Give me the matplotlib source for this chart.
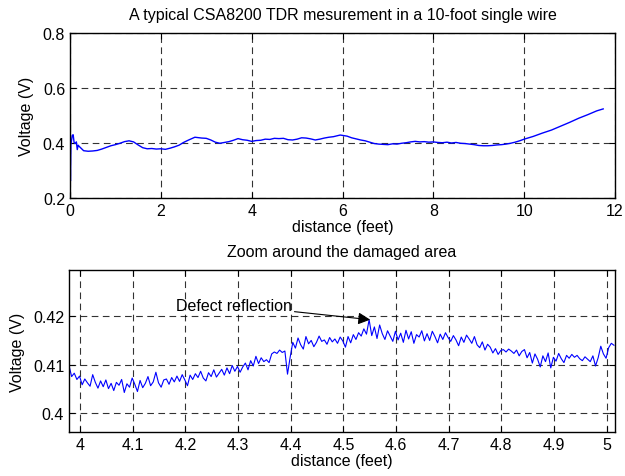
#!/usr/bin/env python3

import numpy as np
import matplotlib
matplotlib.use("Agg")
import matplotlib.pyplot as plt

plt.rcParams.update({
    "font.family": ["Liberation Sans", "DejaVu Sans"],
    "font.size": 11.5,
})

# Full trace (feet, volts)
full_x = [0.00, 0.01, 0.02, 0.03, 0.05, 0.07, 0.09, 0.11, 0.14, 0.16, 0.18, 0.20,
          0.25, 0.30, 0.40, 0.50, 0.60, 0.70, 0.80, 0.90, 1.00, 1.10, 1.20, 1.30,
          1.40, 1.50, 1.60, 1.70, 1.80, 1.90, 2.00, 2.10, 2.20, 2.30, 2.40, 2.50,
          2.60, 2.75, 2.90, 3.00, 3.10, 3.20, 3.30, 3.40, 3.50, 3.60, 3.70, 3.80,
          3.90, 4.00, 4.10, 4.20, 4.30, 4.40, 4.50, 4.60, 4.70, 4.80, 4.90, 5.00,
          5.10, 5.20, 5.30, 5.40, 5.50, 5.60, 5.70, 5.80, 5.95, 6.10, 6.20, 6.30,
          6.40, 6.50, 6.60, 6.70, 6.80, 6.90, 7.00, 7.10, 7.20, 7.30, 7.40, 7.50,
          7.60, 7.70, 7.80, 7.90, 8.00, 8.10, 8.20, 8.30, 8.40, 8.50, 8.60, 8.70,
          8.80, 8.90, 9.00, 9.10, 9.20, 9.30, 9.40, 9.50, 9.60, 9.70, 9.80, 9.90,
          10.00, 10.20, 10.40, 10.60, 10.80, 11.00, 11.20, 11.40, 11.60, 11.74]
full_v = [0.400, 0.262, 0.395, 0.405, 0.428, 0.430, 0.402, 0.398, 0.404, 0.376, 0.392, 0.388,
          0.380, 0.372, 0.370, 0.371, 0.373, 0.378, 0.384, 0.390, 0.394, 0.399, 0.405, 0.408,
          0.404, 0.393, 0.383, 0.379, 0.380, 0.378, 0.379, 0.377, 0.381, 0.386, 0.392, 0.402,
          0.410, 0.421, 0.418, 0.417, 0.411, 0.403, 0.399, 0.402, 0.405, 0.410, 0.416, 0.412,
          0.410, 0.406, 0.409, 0.410, 0.414, 0.413, 0.417, 0.416, 0.417, 0.412, 0.411, 0.414,
          0.419, 0.418, 0.415, 0.411, 0.414, 0.418, 0.421, 0.423, 0.429, 0.425, 0.419, 0.415,
          0.411, 0.408, 0.403, 0.398, 0.396, 0.395, 0.394, 0.397, 0.396, 0.399, 0.401, 0.404,
          0.406, 0.404, 0.405, 0.403, 0.404, 0.402, 0.401, 0.403, 0.400, 0.402, 0.399, 0.398,
          0.396, 0.394, 0.391, 0.390, 0.390, 0.391, 0.393, 0.394, 0.396, 0.399, 0.403, 0.408,
          0.414, 0.424, 0.436, 0.447, 0.461, 0.475, 0.490, 0.503, 0.517, 0.524]

# Zoomed trace, evenly sampled from 3.979 ft to 5.014 ft (millivolts)
zoom_start, zoom_end = 3.979, 5.014
zoom_mv = [
    409.8, 407.5, 408.2, 406.9, 407.6,
    405.8, 407.0, 406.2, 405.5, 407.9, 406.3, 405.1, 406.6, 405.4, 406.8,
    405.0, 406.1, 404.6, 406.3, 405.7, 406.9, 404.2, 406.0, 405.3, 407.2,
    405.9, 404.4, 406.7, 405.2, 406.1, 407.5, 405.6, 406.4, 408.4, 406.2,
    405.3, 406.8, 407.0, 405.9, 407.3, 406.4, 407.6, 406.5, 407.9, 406.8,
    405.6, 407.8, 406.9, 408.1, 407.3, 408.6, 407.2, 406.6, 408.3, 407.5,
    408.9, 407.4, 408.2, 409.0, 407.8, 409.3, 408.1, 409.8, 408.6, 409.6,
    408.4, 409.5, 410.3, 408.9, 410.8, 409.7, 411.7, 410.2, 411.4, 410.6,
    411.0, 410.4, 412.2, 412.6, 412.3, 413.0, 412.5, 412.8,
    408.0,
    411.5,
    414.6, 413.4, 415.5, 414.1, 413.2, 415.8, 414.3, 415.0, 413.7, 414.6,
    415.9, 414.8, 415.1, 414.2, 415.6, 414.7, 415.3, 414.4, 415.7, 414.9,
    413.6, 415.8, 414.5, 416.2, 415.2, 416.6, 415.9, 417.4, 416.3,
    419.3,
    416.0, 417.8, 415.4, 418.2, 416.4, 415.2, 417.0, 415.9, 414.8, 416.9,
    415.1, 416.5, 414.6, 417.1, 415.3, 416.8, 414.4, 416.2, 415.7, 417.0,
    414.9, 416.4, 415.0, 416.9, 415.8, 414.5, 416.3, 415.2, 416.6, 415.6,
    414.8, 416.0, 415.1, 413.9, 415.7, 414.6, 416.1, 415.3, 414.4, 415.8,
    414.1, 413.5, 414.7, 413.0, 414.2, 413.6, 412.4, 413.3, 412.1, 412.9,
    413.1, 412.6, 413.2, 412.8, 412.3, 413.0, 411.8, 412.7, 413.1, 411.4,
    412.5, 410.3, 412.2, 411.1, 409.5, 411.8, 410.6, 412.4, 409.3, 411.5,
    410.7, 412.3, 411.2, 410.4, 411.9, 411.3, 412.1, 411.5, 411.9, 411.2,
    410.8, 411.6, 411.1, 410.6, 411.8, 409.7, 411.4, 413.8, 412.2, 411.3,
    413.5, 414.4, 414.0,
]

top_xticks = [0, 2, 4, 6, 8, 10, 12]
top_yticks = [0.2, 0.4, 0.6, 0.8]
bot_xticks = [4.0, 4.1, 4.2, 4.3, 4.4, 4.5, 4.6, 4.7, 4.8, 4.9, 5.0]
bot_xlabels = ['4', '4.1', '4.2', '4.3', '4.4', '4.5', '4.6', '4.7', '4.8', '4.9', '5']
bot_yticks = [0.40, 0.41, 0.42]
bot_ylabels = ['0.4', '0.41', '0.42']

defect_x, defect_v = 4.551, 0.4193


def style(ax):
    ax.grid(True, color='black', linestyle=(0, (6, 4)), linewidth=0.8, alpha=0.8)
    ax.tick_params(direction='in', top=True, right=True, length=4, labelsize=11.5)
    for s in ax.spines.values():
        s.set_linewidth(1.0)


def main():
    fig = plt.figure(figsize=(6.25, 4.77), dpi=100)

    ax1 = fig.add_axes([0.112, 0.5828, 0.872, 0.3459])
    ax1.plot(full_x, full_v, color='#0000ff', linewidth=1.0)
    ax1.set_xlim(0, 12)
    ax1.set_ylim(0.2, 0.8)
    ax1.set_xticks(top_xticks)
    ax1.set_yticks(top_yticks)
    ax1.set_yticklabels(['0.2', '0.4', '0.6', '0.8'])
    ax1.set_xlabel('distance (feet)', labelpad=1)
    ax1.set_ylabel('Voltage (V)', labelpad=6)
    ax1.set_title('A typical CSA8200 TDR mesurement in a 10-foot single wire',
                  fontsize=11.5, pad=10)
    style(ax1)

    zoom_x = np.linspace(zoom_start, zoom_end, len(zoom_mv))
    zoom_v = np.array(zoom_mv) / 1000.0

    ax2 = fig.add_axes([0.1104, 0.0922, 0.8736, 0.3396])
    ax2.plot(zoom_x, zoom_v, color='#0000ff', linewidth=0.8)
    ax2.set_xlim(3.979, 5.016)
    ax2.set_ylim(0.396, 0.4296)
    ax2.set_xticks(bot_xticks)
    ax2.set_xticklabels(bot_xlabels)
    ax2.set_yticks(bot_yticks)
    ax2.set_yticklabels(bot_ylabels)
    ax2.set_xlabel('distance (feet)', labelpad=1)
    ax2.set_ylabel('Voltage (V)', labelpad=6)
    ax2.set_title('Zoom around the damaged area', fontsize=11.5, pad=10)
    style(ax2)

    ax2.annotate('Defect reflection', xy=(defect_x, defect_v),
                 xytext=(4.402, 0.4223), ha='right', va='center', fontsize=11.5,
                 arrowprops=dict(arrowstyle='-|>', color='black', lw=0.8,
                                 mutation_scale=18, shrinkA=0, shrinkB=0))

    fig.savefig('out.png', dpi=100)


if __name__ == "__main__":
    main()
